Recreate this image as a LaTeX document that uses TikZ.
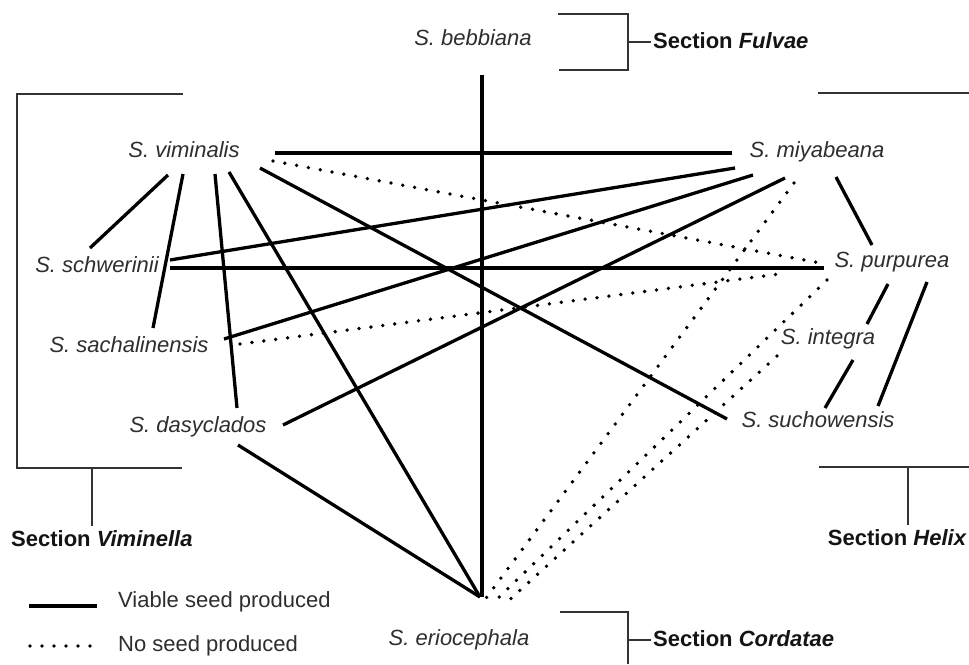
\documentclass[tikz,border=0pt]{standalone}
\usepackage{fontspec}
\setmainfont{Liberation Sans}
\usetikzlibrary{calc}
\definecolor{spgray}{HTML}{2E2E2E}
\definecolor{secblack}{HTML}{141414}
\definecolor{brkgray}{HTML}{333333}
\begin{document}
\begin{tikzpicture}[x=1pt,y=-1pt,
  sp/.style={font=\fontsize{22}{25}\selectfont\itshape, text=spgray, inner sep=0pt, anchor=base},
  sec/.style={font=\fontsize{22}{25}\selectfont\bfseries, text=secblack, inner sep=0pt},
  leg/.style={font=\fontsize{22}{25}\selectfont, text=spgray, inner sep=0pt, anchor=base west},
  viable/.style={line width=3.3pt, black},
  noseed/.style={line width=3.8pt, black, line cap=round, dash pattern=on 0pt off 12pt},
  brk/.style={line width=1.8pt, brkgray}
]
\useasboundingbox[fill=white] (0,0) rectangle (969,664);

% species labels
\node[sp] (beb) at (473,45) {S. bebbiana};
\node[sp] (vim) at (184,157) {S. viminalis};
\node[sp] (miy) at (817,157) {S. miyabeana};
\node[sp] (sch) at (97,272) {S. schwerinii};
\node[sp] (pur) at (892,267) {S. purpurea};
\node[sp] (sac) at (129,352) {S. sachalinensis};
\node[sp] (int) at (828,344) {S. integra};
\node[sp] (das) at (198,432) {S. dasyclados};
\node[sp] (suc) at (818,427) {S. suchowensis};
\node[sp] (eri) at (459,645) {S. eriocephala};

% section labels
\node[sec, anchor=base west] (fulv) at (653,48) {Section \textit{Fulvae}};
\node[sec, anchor=base west] (vimi) at (11,546) {Section \textit{Viminella}};
\node[sec, anchor=base east] (heli) at (967,545) {Section \textit{Helix}};
\node[sec, anchor=base west] (cord) at (653,646) {Section \textit{Cordatae}};

% brackets
\draw[brk] (558,14) -- (628,14) -- (628,70) -- (559,70);
\draw[brk] (628,42) -- (651,42);
\draw[brk] (183,94) -- (17,94) -- (17,468) -- (182,468);
\draw[brk] (92,468) -- (92,526);
\draw[brk] (818,93) -- (969,93);
\draw[brk] (819,467) -- (969,467);
\draw[brk] (908,467) -- (908,525);
\draw[brk] (560,612) -- (628,612) -- (628,664);
\draw[brk] (628,640) -- (651,640);

% viable crosses
\draw[viable] ($(beb.base)+(9,30)$) -- ($(eri.base)+(23,-48)$);
\draw[viable] ($(vim.base)+(91,-4)$) -- ($(miy.base)+(-85,-4)$);
\draw[viable] ($(vim.base)+(-16,18)$) -- ($(sch.base)+(-7,-24)$);
\draw[viable] ($(vim.base)+(-1,17)$) -- ($(sac.base)+(24,-24)$);
\draw[viable] ($(vim.base)+(31,17)$) -- ($(das.base)+(39,-24)$);
\draw[viable] ($(vim.base)+(45,15)$) -- ($(eri.base)+(21,-48)$);
\draw[viable] ($(vim.base)+(76,11)$) -- ($(suc.base)+(-91,-8)$);
\draw[viable] ($(sch.base)+(73,-4)$) -- ($(pur.base)+(-68,1)$);
\draw[viable] ($(sch.base)+(73,-12)$) -- ($(miy.base)+(-82,11)$);
\draw[viable] ($(sac.base)+(95,-13)$) -- ($(miy.base)+(-64,18)$);
\draw[viable] ($(das.base)+(85,-7)$) -- ($(miy.base)+(-32,21)$);
\draw[viable] ($(das.base)+(40,13)$) -- ($(eri.base)+(21,-48)$);
\draw[viable] ($(miy.base)+(19,20)$) -- ($(pur.base)+(-20,-22)$);
\draw[viable] ($(pur.base)+(-4,17)$) -- ($(int.base)+(39,-20)$);
\draw[viable] ($(int.base)+(25,16)$) -- ($(suc.base)+(7,-19)$);
\draw[viable] ($(pur.base)+(35,15)$) -- ($(suc.base)+(60,-21)$);

% no seed crosses
\draw[noseed] ($(vim.base)+(89,4)$) -- ($(pur.base)+(-66,-3)$);
\draw[noseed] ($(sac.base)+(111,-8)$) -- ($(pur.base)+(-105,6)$);
\draw[noseed] ($(miy.base)+(-23,26)$) -- ($(eri.base)+(22,-40)$);
\draw[noseed] ($(pur.base)+(-65,13)$) -- ($(eri.base)+(33,-41)$);
\draw[noseed] ($(int.base)+(-51,12)$) -- ($(eri.base)+(46,-41)$);

% legend
\coordinate (lva) at (29,606);
\coordinate (lvb) at (97,606);
\coordinate (lna) at (30,646);
\coordinate (lnb) at (101,646);
\draw[viable] (lva) -- (lvb);
\draw[noseed] (lna) -- (lnb);
\node[leg] (legv) at (118,607) {Viable seed produced};
\node[leg] (legn) at (118,651) {No seed produced};
\end{tikzpicture}
\end{document}
